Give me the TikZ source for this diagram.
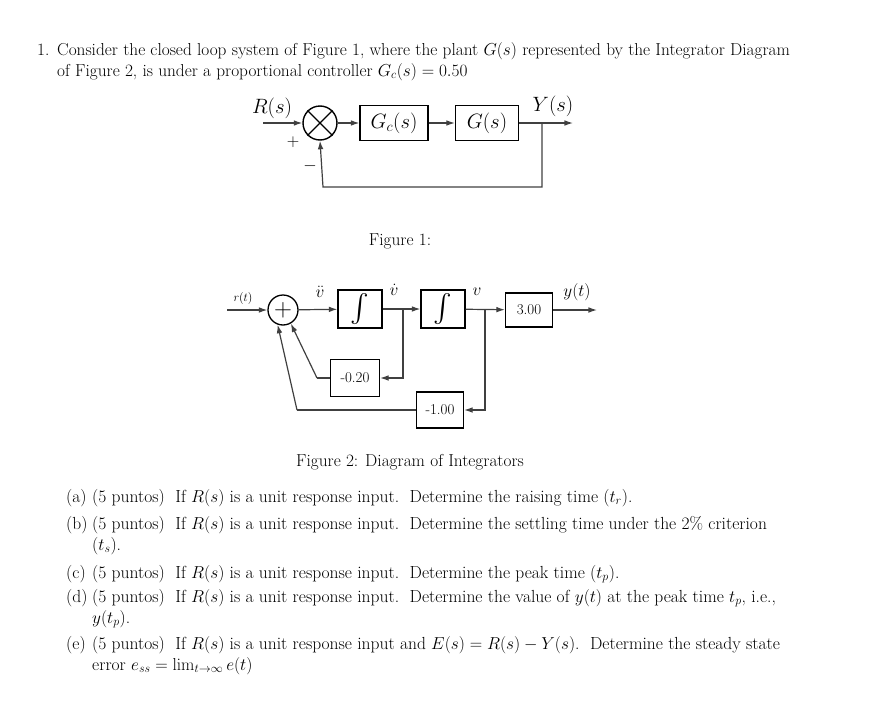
\documentclass[tikz,border=0pt]{standalone}
\usepackage{amsmath,amssymb}
\usetikzlibrary{arrows.meta,positioning,calc}
\begin{document}
\begin{tikzpicture}[x=1pt,y=-1pt,
    txt/.style={anchor=base west, inner sep=0pt, font=\fontsize{17.3}{19}\selectfont},
    itm/.style={anchor=base west, inner sep=0pt, font=\fontsize{17.5}{19}\selectfont},
    blk/.style={rectangle, draw, line width=1.3pt, inner sep=0pt, font=\fontsize{21}{24}\selectfont},
    sblk/.style={rectangle, draw, line width=1.2pt, inner sep=0pt, font=\fontsize{15}{17}\selectfont},
    arr/.style={-{Latex[length=3mm,width=2mm]}, line width=1.2pt, draw=black!75},
    ln/.style={line width=1.2pt, draw=black!75}
]
    \useasboundingbox (0,0) rectangle (871,715);
    % question text
    \node[txt] at (37,55) {1.};
    \node[txt] (q1) at (57,55) {Consider the closed loop system of Figure 1, where the plant $G(s)$ represented by the Integrator Diagram};
    \node[txt] (q2) at (57,76) {of Figure 2, is under a proportional controller $G_c(s)=0.50$};

    % Figure 1
    \node[circle, draw, line width=1.4pt, minimum size=34pt, inner sep=0pt] (sum1) at (320,123) {};
    \draw[line width=1.4pt] (sum1.45) -- (sum1.225) (sum1.135) -- (sum1.315);
    \node[blk, minimum width=68pt, minimum height=35pt] (gc) at (394,123) {$G_c(s)$};
    \node[blk, minimum width=63pt, minimum height=35pt] (gp) at (487,123) {$G(s)$};
    \coordinate (in1) at (263,123);
    \coordinate (out1) at (573,123);
    \coordinate (br1) at (542,123);
    \draw[arr] (in1) -- (sum1);
    \draw[arr] (sum1) -- (gc);
    \draw[arr] (gc) -- (gp);
    \draw[arr] (gp) -- (out1);
    \draw[arr] (br1) |- (323,187) -- (sum1.south);
    \node[font=\fontsize{21}{24}\selectfont] at (272,108) {$R(s)$};
    \node[font=\fontsize{21}{24}\selectfont] at (553,106) {$Y(s)$};
    \node[font=\fontsize{18}{20}\selectfont] at (293,142) {$+$};
    \node[font=\fontsize{18}{20}\selectfont] at (310,166) {$-$};
    \node[txt, anchor=base] (cap1) at (400,245) {Figure 1:};

    % Figure 2
    \node[circle, draw, line width=1.3pt, minimum size=30pt, inner sep=0pt, font=\fontsize{24}{24}\selectfont\bfseries] (sum2) at (283,310) {$+$};
    \node[blk, minimum width=44pt, minimum height=38pt, font=\fontsize{28}{30}\selectfont] (int1) at (360,309) {$\int$};
    \node[blk, minimum width=44pt, minimum height=38pt, font=\fontsize{28}{30}\selectfont] (int2) at (443,309) {$\int$};
    \node[sblk, minimum width=47pt, minimum height=34pt] (k3) at (529,310) {3.00};
    \node[sblk, minimum width=49pt, minimum height=37pt] (k02) at (355,378) {-0.20};
    \node[sblk, minimum width=47pt, minimum height=36pt] (k1) at (440,410) {-1.00};
    \coordinate (in2) at (227,310);
    \coordinate (out2) at (597,310);
    \coordinate (br2) at (403,310);
    \coordinate (br3) at (485,310);
    \coordinate (fb1) at (317,378);
    \coordinate (fb2) at (297,410);
    \draw[arr] (in2) -- (sum2);
    \draw[arr] (sum2) -- (int1);
    \draw[arr] (int1) -- (int2);
    \draw[arr] (int2) -- (k3);
    \draw[arr] (k3) -- (out2);
    \draw[arr] (br2) |- (k02);
    \draw[arr] (br3) |- (k1);
    \draw[ln] (k02) -- (fb1);
    \draw[arr] (fb1) -- (sum2.-60);
    \draw[ln] (k1) -- (fb2);
    \draw[arr] (fb2) -- (sum2.-110);
    \node[font=\fontsize{13}{15}\selectfont] at (243,298) {$r(t)$};
    \node[font=\fontsize{17}{19}\selectfont] at (320,292) {$\ddot v$};
    \node[font=\fontsize{17}{19}\selectfont] at (394,290) {$\dot v$};
    \node[font=\fontsize{17}{19}\selectfont] at (477,292) {$v$};
    \node[font=\fontsize{19}{21}\selectfont] at (577,292) {$y(t)$};
    \node[txt, anchor=base] (cap2) at (410,466) {Figure 2: Diagram of Integrators};

    % items
    \foreach \lab/\yy in {(a)/502,(b)/529,(c)/578,(d)/602,(e)/649}
        \node[itm] at (66,\yy) {\lab};
    \node[itm] at (92,502) {(5 puntos)\ \ If $R(s)$ is a unit response input.\ \ Determine the raising time ($t_r$).};
    \node[itm] at (92,529) {(5 puntos)\ \ If $R(s)$ is a unit response input.\ \ Determine the settling time under the 2\% criterion};
    \node[itm] at (92,550) {($t_s$).};
    \node[itm] at (92,578) {(5 puntos)\ \ If $R(s)$ is a unit response input.\ \ Determine the peak time ($t_p$).};
    \node[itm] at (92,602) {(5 puntos)\ \ If $R(s)$ is a unit response input.\ \ Determine the value of $y(t)$ at the peak time $t_p$, i.e.,};
    \node[itm] at (92,623) {$y(t_p)$.};
    \node[itm] at (92,649) {(5 puntos)\ \ If $R(s)$ is a unit response input and $E(s)=R(s)-Y(s)$.\ \ Determine the steady state};
    \node[itm] at (92,670) {error $e_{ss}=\lim_{t\to\infty}e(t)$};
\end{tikzpicture}
\end{document}
